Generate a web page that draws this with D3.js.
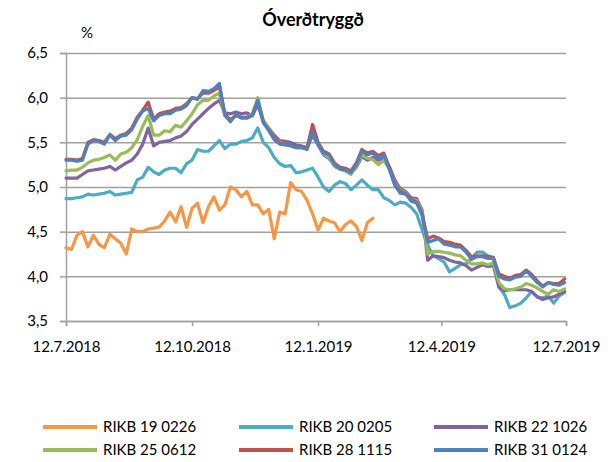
<!DOCTYPE html>
<html>
<head>
<meta charset="utf-8">
<script src="https://cdn.jsdelivr.net/npm/d3@7/dist/d3.min.js"></script>
<style>
body { margin: 0; background: #fff; }
svg { font-family: Lato, "Open Sans", sans-serif; }
</style>
</head>
<body>
<svg width="610" height="462"></svg>
<script>
// dates of the readings (every 4 days)
var dates = [
  "2018-07-12","2018-07-16","2018-07-20","2018-07-24","2018-07-28",
  "2018-08-01","2018-08-05","2018-08-09","2018-08-13","2018-08-17","2018-08-21","2018-08-25","2018-08-29",
  "2018-09-02","2018-09-06","2018-09-10","2018-09-14","2018-09-18","2018-09-22","2018-09-26","2018-09-30",
  "2018-10-04","2018-10-08","2018-10-12","2018-10-16","2018-10-20","2018-10-24","2018-10-28",
  "2018-11-01","2018-11-05","2018-11-09","2018-11-13","2018-11-17","2018-11-21","2018-11-25","2018-11-29",
  "2018-12-03","2018-12-07","2018-12-11","2018-12-15","2018-12-19","2018-12-23","2018-12-27","2018-12-31",
  "2019-01-04","2019-01-08","2019-01-12","2019-01-16","2019-01-20","2019-01-24","2019-01-28",
  "2019-02-01","2019-02-05","2019-02-09","2019-02-13","2019-02-17","2019-02-21","2019-02-25",
  "2019-03-01","2019-03-05","2019-03-09","2019-03-13","2019-03-17","2019-03-21","2019-03-25","2019-03-29",
  "2019-04-02","2019-04-06","2019-04-10","2019-04-14","2019-04-18","2019-04-22","2019-04-26","2019-04-30",
  "2019-05-04","2019-05-08","2019-05-12","2019-05-16","2019-05-20","2019-05-24","2019-05-28",
  "2019-06-01","2019-06-05","2019-06-09","2019-06-13","2019-06-17","2019-06-21","2019-06-25","2019-06-29",
  "2019-07-03","2019-07-07","2019-07-11"
];

// yields in %, one list per bond (RIKB 19 0226 matures in Feb 2019)
var rikb19_0226 = [4.32,4.30,4.46,4.50,4.33,4.46,4.36,4.32,4.47,4.42,4.37,4.25,4.53,
  4.50,4.50,4.53,4.54,4.55,4.62,4.72,4.61,4.78,4.55,4.76,4.82,4.60,4.78,4.89,
  4.74,4.80,5.00,4.97,4.89,4.95,4.80,4.80,4.70,4.75,4.42,4.72,4.70,5.05,4.97,4.95,
  4.85,4.70,4.52,4.65,4.62,4.60,4.50,4.58,4.62,4.56,4.40,4.60,4.65];
var rikb20_0205 = [4.87,4.87,4.88,4.89,4.92,4.91,4.92,4.93,4.95,4.91,4.92,4.93,4.94,
  5.08,5.11,5.22,5.17,5.14,5.19,5.21,5.21,5.16,5.26,5.30,5.42,5.40,5.40,5.46,
  5.52,5.43,5.48,5.48,5.51,5.52,5.55,5.66,5.50,5.44,5.33,5.26,5.23,5.24,5.16,5.17,
  5.19,5.21,5.11,5.00,4.95,5.02,5.06,5.04,4.97,5.02,5.08,5.02,4.97,4.97,
  4.88,4.85,4.80,4.83,4.82,4.77,4.70,4.52,4.35,4.23,4.20,4.16,4.05,4.09,4.13,4.14,
  4.20,4.27,4.27,4.23,4.21,3.88,3.80,3.65,3.67,3.70,3.76,3.83,3.77,3.76,3.78,
  3.70,3.78,3.82];
var rikb22_1026 = [5.10,5.10,5.10,5.14,5.18,5.19,5.20,5.21,5.23,5.19,5.23,5.27,5.30,
  5.37,5.48,5.66,5.46,5.50,5.51,5.52,5.55,5.57,5.62,5.70,5.76,5.82,5.88,5.93,
  5.97,5.83,5.82,5.84,5.82,5.83,5.80,5.92,5.74,5.66,5.58,5.52,5.51,5.50,5.47,5.46,
  5.44,5.58,5.47,5.36,5.32,5.24,5.22,5.20,5.16,5.22,5.34,5.30,5.33,5.30,
  5.32,5.23,5.08,4.98,4.95,4.88,4.87,4.74,4.18,4.23,4.22,4.21,4.18,4.16,4.15,4.12,
  4.07,4.10,4.13,4.11,4.12,3.88,3.84,3.85,3.85,3.85,3.85,3.83,3.77,3.74,3.76,
  3.77,3.80,3.83];
var rikb25_0612 = [5.18,5.19,5.19,5.22,5.27,5.30,5.31,5.33,5.36,5.30,5.37,5.39,5.44,
  5.53,5.68,5.80,5.58,5.58,5.63,5.62,5.69,5.67,5.74,5.82,5.92,5.97,5.97,6.02,
  6.05,5.80,5.75,5.80,5.78,5.78,5.82,6.00,5.75,5.65,5.55,5.50,5.48,5.47,5.44,5.44,
  5.43,5.62,5.48,5.37,5.33,5.23,5.20,5.18,5.14,5.23,5.36,5.32,5.31,5.25,
  5.30,5.20,5.05,4.96,4.94,4.86,4.85,4.72,4.25,4.28,4.28,4.27,4.26,4.24,4.23,4.18,
  4.14,4.14,4.15,4.13,4.15,3.93,3.86,3.85,3.86,3.88,3.92,3.90,3.87,3.83,3.80,
  3.85,3.83,3.86];
var rikb28_1115 = [5.31,5.31,5.30,5.32,5.50,5.53,5.52,5.50,5.59,5.54,5.58,5.60,5.66,
  5.78,5.86,5.95,5.76,5.82,5.84,5.85,5.88,5.89,5.93,6.00,5.99,6.05,6.05,6.08,
  6.12,5.82,5.75,5.80,5.78,5.78,5.80,5.95,5.73,5.64,5.55,5.49,5.48,5.47,5.45,5.45,
  5.44,5.70,5.50,5.40,5.37,5.27,5.22,5.21,5.18,5.27,5.42,5.38,5.40,5.35,
  5.38,5.22,5.03,4.95,4.93,4.86,4.83,4.70,4.42,4.45,4.43,4.39,4.38,4.36,4.35,4.29,
  4.22,4.23,4.23,4.22,4.21,4.03,4.00,3.98,4.01,4.02,4.07,4.02,3.95,3.89,3.93,
  3.92,3.92,3.97];
var rikb31_0124 = [5.30,5.30,5.29,5.30,5.48,5.52,5.51,5.48,5.58,5.52,5.57,5.58,5.64,
  5.76,5.85,5.88,5.74,5.80,5.82,5.82,5.86,5.87,5.91,6.00,5.98,6.08,6.07,6.10,
  6.16,5.80,5.73,5.81,5.77,5.77,5.80,5.97,5.72,5.63,5.53,5.48,5.47,5.46,5.44,5.44,
  5.42,5.62,5.48,5.38,5.36,5.25,5.20,5.19,5.16,5.25,5.40,5.36,5.38,5.32,
  5.36,5.20,5.02,4.93,4.92,4.84,4.82,4.68,4.38,4.40,4.42,4.36,4.35,4.33,4.33,4.27,
  4.19,4.22,4.22,4.20,4.20,4.00,3.97,3.96,3.99,4.00,4.06,4.00,3.93,3.88,3.93,
  3.91,3.90,3.93];

var seriesNames = ["RIKB 19 0226","RIKB 20 0205","RIKB 22 1026","RIKB 25 0612","RIKB 28 1115","RIKB 31 0124"];
var seriesValues = [rikb19_0226, rikb20_0205, rikb22_1026, rikb25_0612, rikb28_1115, rikb31_0124];

// axis ticks
var yTicks = [3.5, 4.0, 4.5, 5.0, 5.5, 6.0, 6.5];
var xTicks = ["2018-07-12","2018-10-12","2019-01-12","2019-04-12","2019-07-12"];

var parseDate = d3.timeParse("%Y-%m-%d");
var isLocale = d3.formatLocale({decimal: ",", thousands: ".", grouping: [3], currency: ["", " kr."]});

var color = d3.scaleOrdinal()
    .domain(seriesNames)
    .range(["#f79646", "#4bacc6", "#8064a2", "#9bbb59", "#c0504d", "#4f81bd"]);

var svg = d3.select("svg");

var x = d3.scaleTime()
    .domain([parseDate(xTicks[0]), parseDate(xTicks[xTicks.length - 1])])
    .range([66, 566]);

var y = d3.scaleLinear()
    .domain([3.5, 6.5])
    .range([321, 53]);

// horizontal gridlines
svg.append("g")
    .attr("transform", "translate(66,0)")
    .call(d3.axisLeft(y).tickValues(yTicks).tickSize(-500).tickFormat(""))
    .call(function(g) { g.select(".domain").remove(); })
    .selectAll("line")
    .attr("stroke", "#a0a0a0")
    .attr("stroke-width", 1.5);

// y axis
var yAxis = svg.append("g")
    .attr("transform", "translate(66,0)")
    .call(d3.axisLeft(y).tickValues(yTicks).tickSize(6).tickPadding(12).tickFormat(isLocale.format(".1f")));

// x axis
var xAxis = svg.append("g")
    .attr("transform", "translate(0,321)")
    .call(d3.axisBottom(x).tickValues(xTicks.map(parseDate)).tickSize(5).tickPadding(15)
        .tickFormat(d3.timeFormat("%-d.%-m.%Y")));

[yAxis, xAxis].forEach(function(g) {
    g.select(".domain").attr("stroke", "#a0a0a0").attr("stroke-width", 1.5);
    g.selectAll(".tick line").attr("stroke", "#a0a0a0").attr("stroke-width", 1.5);
    g.selectAll("text").attr("fill", "#000").style("font-size", "15px").style("font-family", "Lato, sans-serif");
});

// lines
var line = d3.line()
    .defined(function(d) { return d.value != null; })
    .x(function(d) { return x(d.date); })
    .y(function(d) { return y(d.value); });

seriesNames.forEach(function(name, i) {
    var points = seriesValues[i].map(function(v, j) {
        return {date: parseDate(dates[j]), value: v};
    });
    svg.append("path")
        .datum(points)
        .attr("fill", "none")
        .attr("stroke", color(name))
        .attr("stroke-width", 3.2)
        .attr("stroke-linejoin", "round")
        .attr("stroke-linecap", "round")
        .attr("d", line);
});

// title and unit
svg.append("text")
    .attr("x", 313)
    .attr("y", 26)
    .attr("text-anchor", "middle")
    .style("font-size", "18px")
    .style("font-weight", "bold")
    .text("Óverðtryggð");

svg.append("text")
    .attr("x", 81)
    .attr("y", 38)
    .style("font-size", "15px")
    .text("%");

// legend, three columns, two rows
var legend = svg.selectAll("g.legend")
    .data(seriesNames)
    .enter()
    .append("g")
    .attr("class", "legend")
    .attr("transform", function(d, i) {
        return "translate(" + [43, 239, 434][i % 3] + "," + (427 + Math.floor(i / 3) * 23) + ")";
    });

legend.append("line")
    .attr("x1", 0)
    .attr("x2", 54)
    .attr("stroke", function(d) { return color(d); })
    .attr("stroke-width", 4);

legend.append("text")
    .attr("x", 60)
    .attr("dy", "0.35em")
    .style("font-size", "15px")
    .text(function(d) { return d; });
</script>
</body>
</html>
